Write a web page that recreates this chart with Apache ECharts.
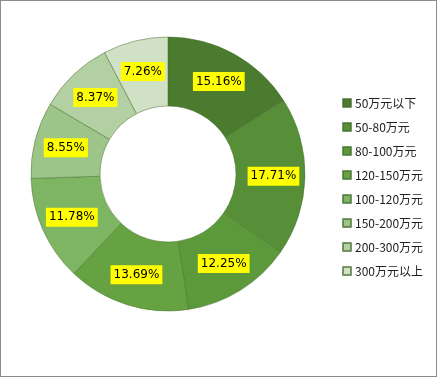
<!DOCTYPE html>
<html>
<head>
<meta charset="utf-8">
<script src="https://cdn.jsdelivr.net/npm/echarts@6/dist/echarts.min.js"></script>
<style>
  html, body { margin: 0; padding: 0; background: #fff; }
  #main { width: 435px; height: 375px; border: 1px solid #8c8c8c; }
</style>
</head>
<body>
<div id="main"></div>
<script>
const categories = ["50万元以下", "50-80万元", "80-100万元", "120-150万元", "100-120万元", "150-200万元", "200-300万元", "300万元以上"];
const values = [15.16, 17.71, 12.25, 13.69, 11.78, 8.55, 8.37, 7.26];
const colors = ["#4b7b2e", "#568f37", "#5c993b", "#66a242", "#7db562", "#9dc58a", "#b3d0a2", "#d1e1c5"];

const chart = echarts.init(document.getElementById("main"));
chart.setOption({
  animation: false,
  color: colors,
  legend: {
    orient: "vertical",
    left: 336,
    top: 91,
    itemWidth: 8,
    itemHeight: 8,
    itemGap: 12,
    icon: "rect",
    textStyle: { fontSize: 12, color: "#222", fontFamily: "Noto Sans CJK SC", padding: [0, 0, 0, -1] },
    data: categories
  },
  series: [{
    type: "pie",
    center: [167, 173],
    radius: [68, 137],
    startAngle: 90,
    clockwise: true,
    silent: true,
    itemStyle: { borderColor: "rgba(70,110,45,0.7)", borderWidth: 0.7 },
    label: {
      position: "inside",
      formatter: p => p.value.toFixed(2) + "%",
      backgroundColor: "#ffff00",
      color: "#000",
      fontSize: 12,
      fontFamily: "DejaVu Sans",
      padding: [4, 3, 3, 3]
    },
    labelLine: { show: false },
    data: categories.map((c, i) => ({ name: c, value: values[i] }))
  }]
});
</script>
</body>
</html>
